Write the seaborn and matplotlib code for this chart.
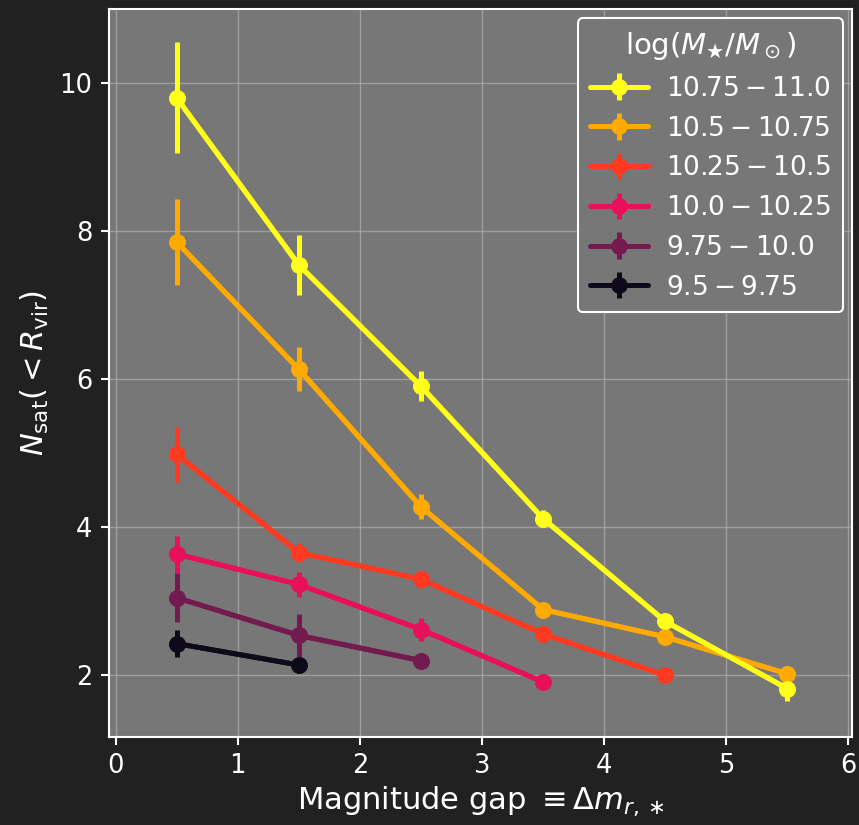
import numpy as np
import pandas as pd
import matplotlib
matplotlib.use("Agg")
import matplotlib.pyplot as plt
import seaborn as sns

# Satellite counts vs. magnitude gap, per stellar-mass bin
gap_bins = [0.5, 1.5, 2.5, 3.5, 4.5, 5.5]

mass_labels = [
    r"$9.5-9.75$",
    r"$9.75-10.0$",
    r"$10.0-10.25$",
    r"$10.25-10.5$",
    r"$10.5-10.75$",
    r"$10.75-11.0$",
]
colors = ["#0f0a1a", "#731a4f", "#e8105a", "#ff3a20", "#ffaa00", "#ffff1a"]

nsat_m95 = [2.42, 2.13]
nsat_m975 = [3.04, 2.53, 2.19]
nsat_m100 = [3.63, 3.22, 2.61, 1.90]
nsat_m1025 = [4.98, 3.65, 3.29, 2.55, 1.99]
nsat_m105 = [7.85, 6.13, 4.27, 2.88, 2.51, 2.01]
nsat_m1075 = [9.80, 7.54, 5.90, 4.11, 2.72, 1.81]

err_m95 = [0.18, 0.05]
err_m975 = [0.33, 0.29, 0.09]
err_m100 = [0.25, 0.17, 0.15, 0.04]
err_m1025 = [0.37, 0.13, 0.12, 0.11, 0.04]
err_m105 = [0.58, 0.30, 0.17, 0.07, 0.08, 0.11]
err_m1075 = [0.75, 0.40, 0.20, 0.12, 0.10, 0.17]

nsat = [nsat_m95, nsat_m975, nsat_m100, nsat_m1025, nsat_m105, nsat_m1075]
errs = [err_m95, err_m975, err_m100, err_m1025, err_m105, err_m1075]

rows = []
for lab, ys, es in zip(mass_labels, nsat, errs):
    for x, y, e in zip(gap_bins, ys, es):
        rows.append({"gap": x, "nsat": y, "err": e, "mass": lab})
df = pd.DataFrame(rows)

sns.set_theme(style="darkgrid", rc={
    "figure.facecolor": "#212121",
    "axes.facecolor": "#777777",
    "axes.edgecolor": "white",
    "axes.linewidth": 1.5,
    "grid.color": "#b0b0b0",
    "grid.linewidth": 1.0,
    "text.color": "white",
    "axes.labelcolor": "white",
    "xtick.color": "white",
    "ytick.color": "white",
    "xtick.bottom": True,
    "ytick.left": True,
    "xtick.major.size": 6,
    "ytick.major.size": 6,
    "xtick.major.width": 1.5,
    "ytick.major.width": 1.5,
})
plt.rcParams["font.family"] = ["DejaVu Sans"]
plt.rcParams["mathtext.fontset"] = "dejavusans"

fig = plt.figure(figsize=(8.59, 8.25), dpi=100)
ax = fig.add_axes([0.127, 0.107, 0.865, 0.882])

palette = dict(zip(mass_labels, colors))
sns.lineplot(data=df, x="gap", y="nsat", hue="mass", palette=palette,
             hue_order=mass_labels, marker="o", markersize=12,
             markeredgewidth=0, linewidth=3.6, legend=False, ax=ax,
             errorbar=None)

handles = []
for lab in mass_labels:
    sub = df[df["mass"] == lab]
    h = ax.errorbar(sub["gap"], sub["nsat"], yerr=sub["err"], fmt="o-",
                    color=palette[lab], lw=3.6, elinewidth=3.6, ms=12,
                    mew=0, label=lab)
    handles.append(h)

ax.set_xlim(-0.053, 6.03)
ax.set_ylim(1.16, 11.0)
ax.set_xticks([0, 1, 2, 3, 4, 5, 6])
ax.set_yticks([2, 4, 6, 8, 10])
ax.tick_params(labelsize=18.5, pad=6)
ax.grid(True, color="#b0b0b0", lw=1.0, alpha=0.7)

ax.set_xlabel(r"Magnitude gap $\equiv \Delta m_{r,\ast}$", fontsize=22, labelpad=4)
ax.set_ylabel(r"$N_{\rm sat}(<R_{\rm vir})$", fontsize=22, labelpad=6)

leg = ax.legend(handles[::-1], mass_labels[::-1], loc="upper right",
                title=r"log$(M_\bigstar/M_\odot)$", fontsize=19,
                title_fontsize=21, frameon=True, facecolor="#777777",
                edgecolor="white", framealpha=1.0, handlelength=2.2,
                borderpad=0.45, labelspacing=0.52, borderaxespad=0.35,
                handletextpad=0.7)
leg.get_frame().set_linewidth(1.5)
for t in leg.get_texts():
    t.set_color("white")
leg.get_title().set_color("white")

fig.savefig("out.png", dpi=100, facecolor=fig.get_facecolor())
